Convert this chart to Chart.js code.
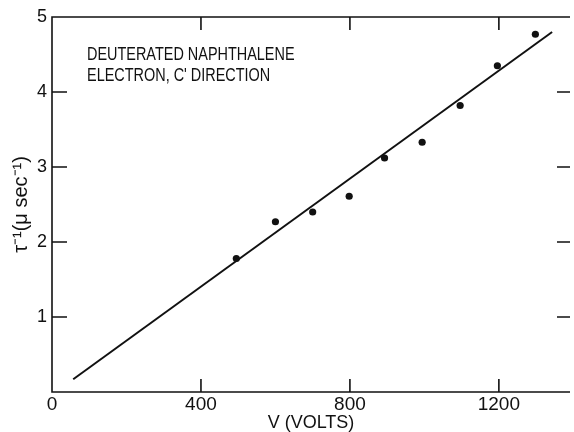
<!DOCTYPE html>
<html>
<head>
<meta charset="utf-8">
<script src="https://cdn.jsdelivr.net/npm/chart.js@4.4.0/dist/chart.umd.min.js"></script>
<style>
html, body { margin: 0; padding: 0; background: #fff; }
#wrap { width: 574px; height: 432px; }
</style>
</head>
<body>
<div id="wrap"><canvas id="chart" width="574" height="432"></canvas></div>
<script>
// measured points: V (volts) against 1/tau (per microsecond)
const volts = [495, 600, 700, 798, 893, 994, 1096, 1196, 1298];
const rates = [1.78, 2.27, 2.40, 2.61, 3.12, 3.33, 3.82, 4.35, 4.77];
// straight line fit, its two ends
const fitVolts = [57, 1343];
const fitRates = [0.17, 4.80];
const xTicks = [0, 400, 800, 1200];
const yTicks = [1, 2, 3, 4, 5];
const noteLines = ['DEUTERATED NAPHTHALENE', "ELECTRON, C' DIRECTION"];
const noteVolts = 94;
const noteRates = [4.43, 4.15];

const ink = '#111';
const fam = "'Liberation Sans', Arial, sans-serif";

const framePlugin = {
    id: 'frame',
    afterDraw(chart) {
        const ctx = chart.ctx;
        const a = chart.chartArea;
        const xs = chart.scales.x;
        const ys = chart.scales.y;
        ctx.save();
        ctx.strokeStyle = ink;
        ctx.lineWidth = 1.6;
        ctx.beginPath();
        ctx.moveTo(a.right, a.top);
        ctx.lineTo(a.left, a.top);
        ctx.lineTo(a.left, a.bottom);
        ctx.lineTo(a.right, a.bottom);
        xTicks.forEach(v => {
            if (v === 0) return;
            const px = xs.getPixelForValue(v);
            ctx.moveTo(px, a.bottom); ctx.lineTo(px, a.bottom - 13);
            ctx.moveTo(px, a.top); ctx.lineTo(px, a.top + 13);
        });
        yTicks.forEach(v => {
            const py = ys.getPixelForValue(v);
            ctx.moveTo(a.left, py); ctx.lineTo(a.left + 15, py);
            ctx.moveTo(a.right, py); ctx.lineTo(a.right - 13, py);
        });
        ctx.stroke();

        // note text
        ctx.fillStyle = ink;
        ctx.font = '19px ' + fam;
        ctx.textBaseline = 'alphabetic';
        const nx = xs.getPixelForValue(noteVolts);
        noteLines.forEach((t, i) => {
            const ny = ys.getPixelForValue(noteRates[i]);
            ctx.save();
            ctx.translate(nx, ny);
            ctx.scale(0.76, 1);
            ctx.fillText(t, 0, 0);
            ctx.restore();
        });
        ctx.restore();
    }
};

const ctx = document.getElementById('chart').getContext('2d');
let myChart = new Chart(ctx, {
    type: 'scatter',
    data: {
        datasets: [{
            label: 'measured',
            data: volts.map((v, i) => ({x: v, y: rates[i]})),
            backgroundColor: ink,
            borderColor: ink,
            pointRadius: 3.6,
            pointBorderWidth: 0
        }, {
            label: 'fit',
            data: fitVolts.map((v, i) => ({x: v, y: fitRates[i]})),
            showLine: true,
            borderColor: ink,
            borderWidth: 2,
            pointRadius: 0
        }]
    },
    options: {
        responsive: false,
        animation: false,
        layout: { padding: { top: 17, right: 0, left: 0, bottom: 0 } },
        plugins: {
            legend: { display: false },
            tooltip: { enabled: false }
        },
        scales: {
            x: {
                type: 'linear',
                min: 0,
                max: 1391,
                afterFit(s) { s.height = 40; },
                afterBuildTicks(s) { s.ticks = xTicks.map(v => ({value: v})); },
                grid: { display: false, drawTicks: false },
                border: { display: false },
                ticks: {
                    color: ink, font: { family: fam, size: 19, lineHeight: 1 }, padding: 3,
                    callback: v => String(v)
                },
                title: {
                    display: true, text: 'V (VOLTS)', color: ink,
                    font: { family: fam, size: 18, lineHeight: 1 },
                    padding: { top: 0, bottom: 0 }
                }
            },
            y: {
                type: 'linear',
                min: 0,
                max: 5,
                afterFit(s) { s.width = 52; },
                afterBuildTicks(s) { s.ticks = yTicks.map(v => ({value: v})); },
                grid: { display: false, drawTicks: false },
                border: { display: false },
                ticks: {
                    color: ink, font: { family: fam, size: 18 }, padding: 5,
                    callback: v => String(v)
                },
                title: {
                    display: true, text: 'τ⁻¹(μ sec⁻¹)', color: ink,
                    font: { family: fam, size: 20, lineHeight: 1 },
                    padding: { top: 11, bottom: 0 }
                }
            }
        }
    },
    plugins: [framePlugin]
});
</script>
</body>
</html>
